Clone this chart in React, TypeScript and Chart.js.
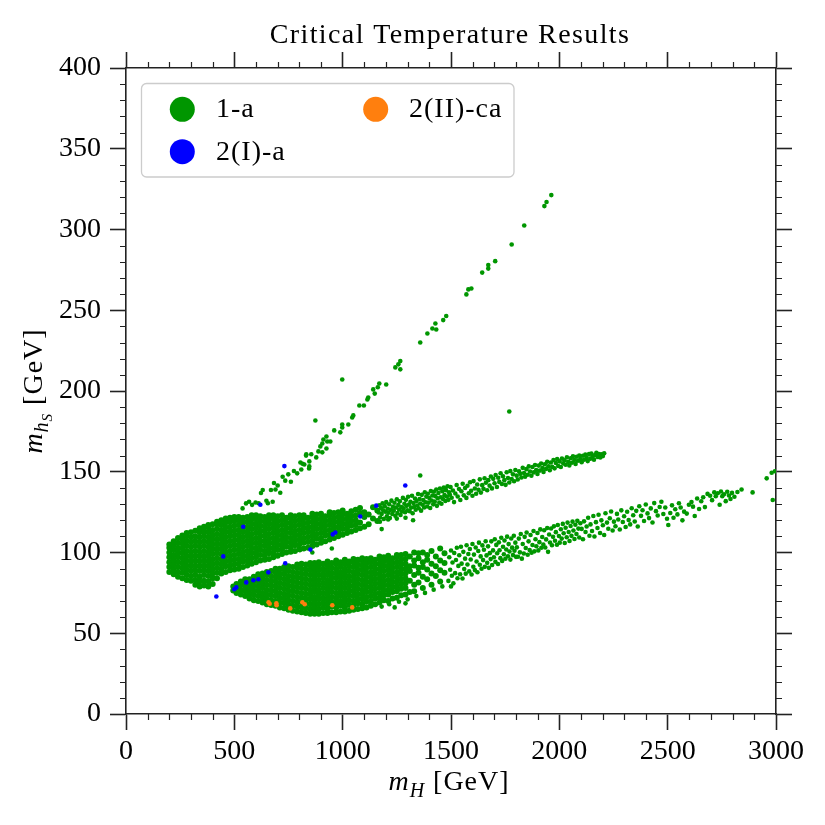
import React, { useEffect, useRef } from 'react';
import Chart from 'chart.js/auto';

// dense parts, in columns: first value is m_H [GeV], the rest are the m_hS values [GeV] at that m_H
const upperCore: number[][] = [
    [200, 88, 91, 94, 97, 100, 103, 105],
    [220, 86.5, 89.5, 92.5, 95.5, 98.5, 101.5, 104.5, 107],
    [240, 85, 88, 91, 94, 97, 100, 103, 106, 109],
    [260, 84, 87.5, 90.5, 93.5, 96.5, 99.5, 102.5, 105.5, 108.5, 110.5],
    [280, 83, 86, 89, 92, 95, 98, 101, 104, 107, 110, 112],
    [300, 82.5, 85.5, 88.5, 91.5, 94.5, 97.5, 100.5, 103.5, 106.5, 109.5, 112.5],
    [320, 80, 83, 86, 89, 92, 95, 98, 101, 104, 107, 110, 113.5],
    [340, 79, 82, 85, 88.5, 91.5, 94.5, 97.5, 100.5, 103.5, 106.5, 109.5, 112.5, 115],
    [360, 79.5, 82.5, 86, 89, 92, 95, 98, 101, 104, 107, 110, 113, 116],
    [380, 79, 82, 85.5, 88.5, 91.5, 94.5, 97.5, 100.5, 103.5, 106.5, 109.5, 112.5, 115.5, 117],
    [400, 80.5, 84, 87, 90, 93, 96, 99, 102, 105, 108, 111, 114, 117.5],
    [420, 84, 87.5, 90.5, 93.5, 96.5, 99.5, 102.5, 105.5, 108.5, 111.5, 114.5, 117.5, 119],
    [440, 87, 90, 93, 96, 99, 102, 105, 108, 111, 114, 117, 120],
    [460, 88, 91.5, 94.5, 97.5, 100.5, 103.5, 106.5, 109.5, 112.5, 115.5, 118.5, 121],
    [480, 89, 92, 95, 98, 101, 104, 107, 110, 113, 116, 119, 121.5],
    [500, 89.5, 92.5, 95.5, 98.5, 101.5, 104.5, 107.5, 110.5, 113.5, 116.5, 119.5, 122],
    [520, 90, 93, 96, 99, 102, 105, 108, 111, 114, 117, 120, 122],
    [540, 91, 94.5, 97.5, 100.5, 103.5, 106.5, 109.5, 112.5, 115.5, 118.5, 121.5],
    [560, 92, 95, 98, 101, 104, 107, 110, 113, 116, 119, 122],
    [580, 93, 96.5, 99.5, 102.5, 105.5, 108.5, 111.5, 114.5, 117.5, 120.5, 123],
    [600, 94, 97, 100, 103, 106, 109, 112, 115, 118, 121, 123],
    [620, 95, 98.5, 101.5, 104.5, 107.5, 110.5, 113.5, 116.5, 119.5, 122.5],
    [640, 95.5, 98, 101, 104, 107, 110, 113, 116, 119, 122],
    [660, 96, 99.5, 102.5, 105.5, 108.5, 111.5, 114.5, 117.5, 120.5, 123],
    [680, 97, 100, 103, 106, 109, 112, 115, 118, 121, 123],
    [700, 98, 101.5, 104.5, 107.5, 110.5, 113.5, 116.5, 119.5, 122.5],
    [720, 99, 102, 105, 108, 111, 114, 117, 120, 123],
    [740, 100, 103.5, 106.5, 109.5, 112.5, 115.5, 118.5, 121.5],
    [760, 100.5, 103, 106, 109, 112, 115, 118, 121, 123],
    [780, 101, 104.5, 107.5, 110.5, 113.5, 116.5, 119.5, 122.5],
    [800, 102, 105, 108, 111, 114, 117, 120, 123],
    [820, 102.5, 106, 109, 112, 115, 118, 121, 123],
    [840, 103, 106.5, 109.5, 112.5, 115.5, 118.5, 121.5],
    [860, 104, 107, 110, 113, 116, 119, 122, 124],
    [880, 105, 108.5, 111.5, 114.5, 117.5, 120.5, 123.5],
    [900, 106, 109, 112, 115, 118, 121, 124],
    [920, 107, 110.5, 113.5, 116.5, 119.5, 122.5],
    [940, 108, 111, 114, 117, 120, 123, 125],
    [960, 109, 112.5, 115.5, 118.5, 121.5, 124.5],
    [980, 110, 113, 116, 119, 122, 125],
    [1000, 111, 114.5, 117.5, 120.5, 123.5, 126],
    [1020, 112, 115, 118, 121, 124],
    [1040, 113, 116.5, 119.5, 122.5, 125.5],
    [1060, 114, 117, 120, 123, 126.5],
    [1080, 115, 118.5, 124.5, 127.5],
    [1100, 116, 122, 125],
    [1120, 117.5, 123.5],
    [1140, 121, 128],
    [1160, 119.5, 126],
];

const lowerCore: number[][] = [
    [495, 76.5, 79],
    [510, 75, 78, 80.5],
    [530, 74, 77, 80, 82],
    [550, 73, 76, 79, 82, 83.5],
    [570, 71.5, 74.5, 77.5, 80.5, 83.5],
    [590, 70.5, 73.5, 76.5, 79.5, 82.5, 85],
    [610, 70, 73, 76, 79, 82, 85, 86.5],
    [630, 69, 72, 75, 78, 81, 84, 87],
    [650, 68, 71, 74, 77, 80, 83, 86, 88],
    [670, 67.5, 70.5, 73.5, 76.5, 79.5, 82.5, 85.5, 88.5],
    [690, 67, 70, 73, 76, 79, 82, 85, 88, 90],
    [710, 66, 69, 72, 75, 78, 81, 84, 87, 90],
    [730, 65.5, 68.5, 71.5, 74.5, 77.5, 80.5, 83.5, 86.5, 89.5, 91],
    [750, 64.5, 67.5, 70.5, 73.5, 76.5, 79.5, 82.5, 85.5, 88.5, 91.5],
    [770, 64, 67, 70, 73, 76, 79, 82, 85, 88, 91],
    [790, 63.5, 66.5, 69.5, 72.5, 75.5, 78.5, 81.5, 84.5, 87.5, 90.5, 92.5],
    [810, 63, 66, 69, 72, 75, 78, 81, 84, 87, 90, 93],
    [830, 62.5, 65.5, 68.5, 71.5, 74.5, 77.5, 80.5, 83.5, 86.5, 89.5, 92.5],
    [850, 62, 65, 68, 71, 74, 77, 80, 83, 86, 89, 92, 93.5],
    [870, 62, 63.5, 66.5, 69.5, 72.5, 75.5, 78.5, 81.5, 84.5, 87.5, 90.5, 93.5],
    [890, 62, 65, 68, 71, 74, 77, 80, 83, 86, 89, 92, 94],
    [910, 62.5, 66, 69, 72, 75, 78, 81, 84, 87, 90, 93],
    [930, 62.5, 65, 68, 71, 74, 77, 80, 83, 86, 89, 92, 94.5],
    [950, 63, 66.5, 69.5, 72.5, 75.5, 78.5, 81.5, 84.5, 87.5, 90.5, 93.5],
    [970, 63, 66, 69, 72, 75, 78, 81, 84, 87, 90, 93, 95],
    [990, 63.5, 67, 70, 73, 76, 79, 82, 85, 88, 91, 94],
    [1010, 63.5, 66, 69, 72, 75, 78, 81, 84, 87, 90, 93, 95.5],
    [1030, 64, 67.5, 70.5, 73.5, 76.5, 79.5, 82.5, 85.5, 88.5, 91.5, 94.5],
    [1050, 64.5, 67, 70, 73, 76, 79, 82, 85, 88, 91, 94, 96],
    [1070, 65, 68.5, 71.5, 74.5, 77.5, 80.5, 83.5, 86.5, 89.5, 92.5, 95.5],
    [1090, 65.5, 68, 71, 74, 77, 80, 83, 86, 89, 92, 95, 96.5],
    [1110, 66, 69.5, 72.5, 75.5, 78.5, 81.5, 84.5, 87.5, 90.5, 93.5, 96],
    [1130, 67, 70, 73, 76, 79, 82, 85, 88, 91, 94, 96.5],
    [1150, 68, 71.5, 74.5, 77.5, 80.5, 83.5, 86.5, 89.5, 92.5, 95.5],
    [1170, 69, 72, 75, 78, 81, 84, 87, 90, 93, 96, 97.5],
    [1190, 70.5, 73.5, 76.5, 79.5, 82.5, 85.5, 88.5, 91.5, 94.5, 97],
    [1210, 70, 74, 77, 80, 83, 86, 89, 92, 95, 98],
    [1230, 71.5, 75.5, 78.5, 81.5, 84.5, 87.5, 90.5, 93.5, 96.5],
    [1250, 72, 76, 79, 82, 85, 88, 91, 94, 97, 98.5],
    [1270, 73.5, 77.5, 80.5, 83.5, 86.5, 89.5, 92.5, 95.5, 98.5],
    [1290, 74, 78, 81, 84, 87, 90, 93, 96, 99],
    [1310, 75.5, 82.5, 88.5, 91.5, 97.5],
    [1330, 76, 80, 86, 92, 95, 100],
    [1350, 81.5, 87.5, 90.5, 96.5, 99.5],
    [1370, 78, 85, 91, 94, 100],
    [1390, 83.5, 89.5, 95.5, 98.5],
    [1410, 80, 87, 93, 101],
    [1430, 85.5, 91.5, 97.5],
    [1450, 82, 89, 95, 102.5],
    [1470, 87.5, 93.5, 99.5],
];

// sparser parts, single points [m_H, m_hS]
const upperBand: number[][] = [
    [1166, 124.8], [1169, 129.3], [1173, 121.7], [1177, 127.6], [1180, 123.9], [1184, 130.4], [1187, 126.2],
    [1190, 120.8], [1194, 128.7], [1197, 125.3], [1201, 131.2], [1204, 122.4], [1208, 127.1], [1211, 124.6],
    [1215, 129.9], [1218, 121.3], [1222, 126.4], [1225, 132.1], [1229, 123.8], [1232, 128.3], [1236, 125.9],
    [1239, 130.8], [1243, 122.7], [1246, 127.9], [1250, 133], [1253, 124.4], [1257, 129.5], [1260, 126.6],
    [1264, 131.7], [1267, 123.2], [1271, 128.1], [1274, 125.4], [1278, 133.8], [1281, 127.3], [1285, 130.2],
    [1288, 124.9], [1292, 132.6], [1295, 128.9], [1299, 126.1], [1302, 134.5], [1306, 129.7], [1309, 125.6],
    [1313, 131.4], [1316, 127.8], [1320, 135.1], [1323, 124.3], [1327, 130.6], [1330, 128.2], [1334, 133.4],
    [1337, 126.5], [1341, 131.9], [1344, 129.1], [1348, 136.2], [1351, 127.4], [1355, 133.1], [1358, 130.3],
    [1362, 125.9], [1365, 135.7], [1369, 129.6], [1372, 132.5], [1376, 127.9], [1379, 137.3], [1383, 131.1],
    [1386, 134.6], [1390, 128.5], [1393, 136.4], [1397, 130.9], [1400, 133.7], [1404, 127.6], [1407, 138.1],
    [1411, 132.2], [1414, 135.3], [1418, 129.8], [1421, 137.6], [1425, 131.5], [1428, 134.9], [1432, 139],
    [1435, 128.9], [1439, 133.6], [1442, 136.8], [1446, 131], [1449, 139.6], [1453, 134.2], [1456, 130.2],
    [1460, 137.9], [1463, 133.1], [1467, 140.2], [1470, 135.5], [1474, 131.9], [1477, 138.6], [1481, 134.7],
    [1484, 141], [1488, 132.6], [1491, 137.2], [1495, 135.8], [1498, 140.5],
    [1503, 133.9], [1509, 138.4], [1514, 131.2], [1520, 136.5], [1526, 141.8], [1531, 134.7], [1537, 139.3],
    [1543, 132.5], [1548, 137.9], [1554, 142.6], [1559, 135.4], [1565, 139.9], [1571, 133.8], [1576, 141.3],
    [1582, 136.7], [1588, 143.5], [1593, 138.2], [1599, 135.1], [1604, 144.2], [1610, 139.6], [1616, 136.4],
    [1621, 142.1], [1627, 138.8], [1633, 145.3], [1638, 137.1], [1644, 141.7], [1650, 139.4], [1655, 146],
    [1661, 143.2], [1667, 138.5], [1672, 144.8], [1678, 141.4], [1684, 147.1], [1689, 139.7], [1695, 145.6],
    [1701, 142.9], [1706, 148], [1712, 140.6], [1718, 146.3], [1723, 143.7], [1729, 149.1], [1735, 142.4],
    [1740, 147.2], [1746, 144.8], [1752, 141.9], [1757, 149.7], [1763, 146.1], [1769, 143.3], [1774, 150.4],
    [1780, 145.5], [1786, 148.4], [1791, 144.1], [1797, 151.1], [1803, 147.6], [1808, 145.2], [1814, 150.3],
    [1820, 148.7], [1825, 146.4], [1831, 152.4], [1837, 149.2], [1842, 146.9], [1848, 151.6], [1854, 148.1],
    [1859, 153.3], [1865, 150.2], [1871, 147.5], [1876, 152.9], [1882, 149.6], [1888, 154.2], [1893, 151],
    [1899, 148.6], [1905, 153.8], [1910, 150.7], [1916, 155.1], [1922, 152.3], [1927, 149.9], [1933, 154.6],
    [1939, 151.8], [1944, 156.2], [1950, 153.4], [1956, 150.9], [1961, 155.7], [1967, 153], [1973, 157.3],
    [1978, 152.1], [1984, 155.4], [1990, 157.9], [1995, 153.6], [2001, 156.4], [2007, 152.9], [2012, 158.2],
    [2018, 155.2], [2024, 157.1], [2029, 154.3], [2035, 159], [2041, 156.1], [2046, 153.9], [2052, 158.4],
    [2058, 155.6], [2063, 159.6], [2069, 157.2], [2075, 154.8], [2080, 159.3], [2086, 156.8], [2092, 160.1],
    [2097, 157.9], [2103, 155.9], [2109, 159.9], [2114, 157.4], [2120, 160.6], [2126, 158.6], [2131, 156.6],
    [2137, 160.9], [2143, 158.1], [2148, 161.3], [2154, 159.4], [2160, 157.5], [2165, 160.4], [2171, 161.7],
    [2177, 159.1], [2183, 161], [2189, 158.9], [2195, 160.8], [2201, 159.7], [2207, 161.5],
];

const lowerBand: number[][] = [
    [1488, 82.4], [1492, 97.1], [1496, 89.3], [1500, 101.2], [1504, 85.6], [1507, 93.8], [1511, 80.9],
    [1515, 99.7], [1519, 87.2], [1523, 95.4], [1527, 102.9], [1530, 84.1], [1534, 91.7], [1538, 98.3],
    [1542, 86.5], [1546, 103.6], [1549, 93.1], [1553, 83.9], [1557, 100.4], [1561, 89.8], [1565, 96.2],
    [1568, 86.9], [1572, 104.5], [1576, 92.6], [1580, 99.1], [1584, 88.3], [1587, 102.2], [1591, 95.7],
    [1595, 86.4], [1599, 105.3], [1603, 91.2], [1606, 98.7], [1610, 89.1], [1614, 103.1], [1618, 94.4],
    [1622, 87.8], [1626, 100.9], [1629, 106.1], [1633, 92.4], [1637, 97.6], [1641, 89.9], [1645, 104.4],
    [1648, 95.3], [1652, 101.7], [1656, 91.1], [1660, 107], [1664, 98.2], [1667, 93.6], [1671, 103.8],
    [1675, 90.5], [1679, 99.6], [1683, 95.9], [1686, 106.9], [1690, 92.3], [1694, 101.3], [1698, 97.1],
    [1702, 108.2], [1705, 94.2], [1709, 104.7], [1713, 99.5], [1717, 92.9], [1721, 106.3], [1724, 101.4],
    [1728, 96.5], [1732, 109.1], [1736, 94.8], [1740, 103.6], [1744, 98.9], [1747, 107.4], [1751, 96.1],
    [1755, 101.9], [1759, 109.8], [1763, 97.7], [1766, 105.2], [1770, 100.6], [1774, 95.6], [1778, 108.7],
    [1782, 103], [1786, 98.4], [1790, 110.4], [1793, 101.1], [1797, 106.1], [1800, 97.3],
    [1804, 103.2], [1809, 97.4], [1813, 108.6], [1818, 100.1], [1822, 111.5], [1827, 96.2], [1831, 105.3],
    [1836, 99.4], [1840, 109.7], [1845, 102.8], [1849, 112.4], [1854, 98.6], [1858, 106.9], [1863, 101.5],
    [1867, 110.8], [1872, 99.9], [1876, 104.6], [1881, 113.3], [1885, 100.7], [1890, 108.2], [1894, 103.9],
    [1899, 112.1], [1903, 101.3], [1908, 106.4], [1912, 114.3], [1917, 102.9], [1921, 109.6], [1926, 105],
    [1930, 113.8], [1935, 103.1], [1939, 108.1], [1944, 115.2], [1948, 100.4], [1953, 111.1], [1957, 106.2],
    [1962, 114.9], [1966, 104.5], [1971, 109.7], [1975, 116.2], [1980, 107.3], [1984, 112.6], [1989, 104.8],
    [1993, 117], [1998, 110.2], [2002, 106.1], [2007, 114.4], [2011, 108.6], [2016, 117.7], [2020, 111.9],
    [2025, 105.9], [2029, 115.3], [2034, 109.4], [2038, 118.5], [2043, 112.7], [2047, 107.1], [2052, 116.4],
    [2056, 110.3], [2061, 119.1], [2065, 113.6], [2070, 108.4], [2074, 117.2], [2079, 111.5], [2083, 119.6],
    [2088, 114.8], [2092, 109.3], [2097, 118.1],
    [2103, 114.6], [2109, 108.2], [2114, 119.3], [2121, 112.7], [2126, 116.1], [2133, 121.5], [2139, 110.4],
    [2144, 117.4], [2151, 113.3], [2157, 122.6], [2162, 109.9], [2169, 118.8], [2176, 115.2], [2181, 123.4],
    [2188, 112.1], [2194, 119.9], [2201, 116.9], [2207, 110.8], [2213, 124.3], [2220, 118.5], [2226, 114.7],
    [2233, 121.2], [2239, 125.4], [2246, 113.6], [2252, 119.1], [2259, 116.3], [2266, 123.9], [2272, 120.4],
    [2279, 114.2], [2286, 126.1], [2293, 118.9], [2299, 122.4], [2306, 115.8], [2313, 125.2], [2320, 120.1],
    [2327, 117.4], [2334, 127.4], [2341, 123.1], [2348, 119.2], [2355, 125.8], [2362, 116.1], [2369, 128.6],
    [2377, 122.7], [2384, 126.2], [2391, 119.5], [2399, 129.7], [2407, 124.2], [2414, 121.3], [2422, 127.3],
    [2430, 118.6], [2438, 130.6], [2446, 125.6], [2454, 122.9], [2463, 128.2], [2471, 131.4], [2480, 123.8],
    [2489, 127.9], [2497, 120.9],
    [2503, 117], [2512, 124.5], [2520, 129.2], [2527, 121.5], [2535, 126.8], [2545, 123.6],
    [2552, 130.5], [2560, 127.9], [2568, 119.9], [2576, 125.3], [2588, 124.1], [2598, 129.6], [2610, 131.2],
    [2617, 128.4], [2625, 122.6], [2636, 133.4], [2645, 126.9], [2655, 131.7], [2664, 134.2], [2672, 128.1],
    [2684, 136.3], [2696, 135.1], [2705, 132.4], [2715, 137.2], [2722, 134.8], [2731, 136.7], [2740, 129.6],
    [2746, 137.8], [2752, 134.9], [2760, 136.1], [2768, 131.8], [2775, 137.6], [2783, 135.3], [2790, 133.1],
    [2797, 136.9], [2808, 134.5], [2822, 137.5], [2841, 139], [2892, 137.2], [2957, 145.9], [2980, 149.4],
    [2985, 132.5], [2995, 150.3],
];

const steepBranch: number[][] = [
    [538, 127.3], [554, 130.4], [568, 131.4], [582, 129.5], [598, 131], [612, 130.5], [623, 136.8],
    [631, 138.7], [648, 132], [655, 130.5], [669, 138.7], [677, 131.4], [683, 143], [690, 139],
    [700, 141.5], [712, 137], [723, 146.9], [735, 144.5], [749, 148.4], [761, 143.8], [775, 150.5],
    [790, 149], [805, 155.7], [809, 151.4], [815, 155], [823, 154.5], [831, 160], [832, 160.8],
    [845, 152], [846, 156.4], [846, 153.3], [855, 160.8], [878, 158.9], [888, 162.6], [897, 165.7],
    [906, 162], [906, 167.5], [911, 170], [925, 164.4], [925, 171.8], [929, 168.7], [943, 168.7],
    [961, 175.6], [989, 174.4], [998, 177.4], [998, 179.3], [1026, 179.3], [1044, 183.6],
    [1049, 184.9], [1077, 191], [1098, 191], [1114, 194.7], [1118, 196], [1141, 201], [1148, 198.4],
    [1162, 202.3], [1169, 204.6], [1201, 204], [1243, 214.6], [1257, 216.5], [1266, 218.5],
    [1266, 213.4], [1358, 230], [1391, 235.6], [1414, 238.7], [1428, 241.8], [1432, 238.1],
    [1464, 243.9], [1478, 246.4], [1571, 259.8], [1580, 262.9], [1594, 263.5], [1644, 273.3],
    [1672, 275.8], [1672, 278], [1704, 280.4], [1780, 290.7], [1838, 302.5], [1931, 314.5],
    [1941, 317], [1963, 321.3],
];

const strayPoints: number[][] = [
    [874, 181.7], [998, 207.1], [1769, 187.3], [1358, 147.7],
    [1172, 119], [1210, 120.5], [1250, 121], [1290, 121.5], [1325, 120], [1180, 114.5],
    [1180, 66.5], [1215, 68], [1240, 66], [1260, 69.5], [1290, 68.5], [1300, 71], [1340, 73],
    [1380, 75], [1420, 77], [1460, 79], [1500, 79], [860, 100], [950, 102.5], [803, 101.5],
];

const blueSet: number[][] = [
    [731, 153.5], [1289, 141.5], [620, 129.6], [1155, 129], [541, 115.9], [1081, 122.3], [954, 111.2],
    [966, 112.4], [449, 97.6], [851, 101.8], [735, 93.3], [657, 87.7], [611, 83.4], [588, 82.8],
    [555, 81.5], [509, 78.4], [500, 77.2], [417, 72.8],
];

const orangeSet: number[][] = [
    [658, 69.2], [663, 68.3], [694, 68.5], [695, 67.3], [758, 65.4], [814, 69.2], [825, 68],
    [952, 67.3], [1044, 66],
];

const xTicks = [0, 500, 1000, 1500, 2000, 2500, 3000];
const yTicks = [0, 50, 100, 150, 200, 250, 300, 350, 400];

const TITLE = 'Critical Temperature Results';
const GREEN = '#009600';
const BLUE = '#0000ff';
const ORANGE = '#ff7f0e';
const AXIS = '#222222';
const FONT = '"Liberation Serif", "Times New Roman", serif';

const toPoints = (cols: number[][]) => cols.flatMap(([x, ...ys]) => ys.map((y) => ({ x, y })));
const toPairs = (pts: number[][]) => pts.map(([x, y]) => ({ x, y }));

type Piece = { text: string; font: string; dy: number };

// draws a run of text pieces (labels with subscripts)
const drawPieces = (ctx: CanvasRenderingContext2D, pieces: Piece[], cx: number, y: number) => {
    const widths = pieces.map((p) => {
        ctx.font = p.font;
        return ctx.measureText(p.text).width;
    });
    let x = cx - widths.reduce((a, b) => a + b, 0) / 2;
    pieces.forEach((p, i) => {
        ctx.font = p.font;
        ctx.fillText(p.text, x, y + p.dy);
        x += widths[i];
    });
};

const minorTicks = {
    id: 'minorTicks',
    afterDraw(chart: any) {
        const { ctx, chartArea } = chart;
        const { left, right, top, bottom } = chartArea;
        ctx.save();
        ctx.strokeStyle = AXIS;
        ctx.lineWidth = 1.2;
        ctx.beginPath();
        for (let v = 100; v < 3000; v += 100) {
            if (v % 500 === 0) continue;
            const px = Math.round(chart.scales.x.getPixelForValue(v)) + 0.5;
            ctx.moveTo(px, bottom);
            ctx.lineTo(px, bottom + 6);
            ctx.moveTo(px, top);
            ctx.lineTo(px, top - 6);
        }
        for (let v = 10; v < 400; v += 10) {
            if (v % 50 === 0) continue;
            const py = Math.round(chart.scales.y.getPixelForValue(v)) + 0.5;
            ctx.moveTo(left, py);
            ctx.lineTo(left - 6, py);
            ctx.moveTo(right, py);
            ctx.lineTo(right + 6, py);
        }
        ctx.stroke();
        ctx.restore();
    },
};

const overlay = {
    id: 'overlay',
    afterDraw(chart: any) {
        const { ctx, chartArea } = chart;
        const cx = (chartArea.left + chartArea.right) / 2;
        const cy = (chartArea.top + chartArea.bottom) / 2;
        ctx.save();
        ctx.fillStyle = '#000';
        ctx.textBaseline = 'alphabetic';
        ctx.textAlign = 'left';

        // title
        ctx.letterSpacing = '1.4px';
        drawPieces(ctx, [{ text: TITLE, font: `28px ${FONT}`, dy: 0 }], cx - 1, 42.5);

        // x axis title
        ctx.letterSpacing = '1px';
        drawPieces(
            ctx,
            [
                { text: 'm', font: `italic 28px ${FONT}`, dy: 0 },
                { text: 'H', font: `italic 20px ${FONT}`, dy: 7 },
                { text: ' [GeV]', font: `28px ${FONT}`, dy: 0 },
            ],
            cx - 2,
            790,
        );

        // y axis title
        ctx.save();
        ctx.translate(42, cy);
        ctx.rotate(-Math.PI / 2);
        drawPieces(
            ctx,
            [
                { text: 'm', font: `italic 28px ${FONT}`, dy: 0 },
                { text: 'h', font: `italic 20px ${FONT}`, dy: 6 },
                { text: 'S', font: `italic 15px ${FONT}`, dy: 10 },
                { text: ' [GeV]', font: `28px ${FONT}`, dy: 0 },
            ],
            0,
            0,
        );
        ctx.restore();

        // legend
        ctx.beginPath();
        ctx.roundRect(141.5, 83.5, 372.5, 93.5, 5);
        ctx.fillStyle = 'rgba(255,255,255,0.8)';
        ctx.fill();
        ctx.strokeStyle = '#cccccc';
        ctx.lineWidth = 1.3;
        ctx.stroke();

        const ds = chart.data.datasets;
        const slots = [
            { i: 0, mx: 182.3, my: 109.3, tx: 216, ty: 117 },
            { i: 1, mx: 182.3, my: 151.7, tx: 216, ty: 159.5 },
            { i: 2, mx: 375.7, my: 109.3, tx: 409, ty: 117 },
        ];
        ctx.font = `28px ${FONT}`;
        ctx.letterSpacing = '1px';
        slots.forEach((s) => {
            ctx.beginPath();
            ctx.arc(s.mx, s.my, 12.5, 0, Math.PI * 2);
            ctx.fillStyle = ds[s.i].backgroundColor;
            ctx.fill();
            ctx.fillStyle = '#000';
            ctx.fillText(ds[s.i].label, s.tx, s.ty);
        });
        ctx.restore();
    },
};

const axisBase = (pos: string, min: number, max: number, ticks: number[], size: number, showLabels: boolean) => ({
    type: 'linear' as const,
    position: pos,
    min,
    max,
    afterBuildTicks: (s: any) => {
        s.ticks = ticks.map((v) => ({ value: v }));
    },
    afterFit: (s: any) => {
        if (pos === 'top' || pos === 'bottom') s.height = size;
        else s.width = size;
    },
    ticks: {
        display: showLabels,
        color: '#000',
        padding: pos === 'bottom' ? 5 : 9,
        maxRotation: 0,
        autoSkip: false,
        font: { family: FONT, size: 28, lineHeight: 1.2 },
        callback: (v: any) => String(v),
    },
    grid: { drawOnChartArea: false, drawTicks: true, tickLength: 16, tickWidth: 1.6, tickColor: AXIS },
    border: { display: true, color: AXIS, width: 1.6 },
});

const App: React.FC = () => {
    const canvasRef = useRef<HTMLCanvasElement | null>(null);
    const chartRef = useRef<Chart | null>(null);

    useEffect(() => {
        if (!canvasRef.current) return;
        if (chartRef.current) chartRef.current.destroy();

        const greenScatter = [
            ...toPairs(upperBand),
            ...toPairs(lowerBand),
            ...toPairs(steepBranch),
            ...toPairs(strayPoints),
        ];
        const greenDense = [...toPoints(upperCore), ...toPoints(lowerCore)];

        chartRef.current = new Chart(canvasRef.current, {
            type: 'scatter',
            data: {
                datasets: [
                    { label: '1-a', data: greenScatter, backgroundColor: GREEN, order: 3 },
                    { label: '2(I)-a', data: toPairs(blueSet), backgroundColor: BLUE, order: 1 },
                    { label: '2(II)-ca', data: toPairs(orangeSet), backgroundColor: ORANGE, order: 2 },
                    { label: '1-a', data: greenDense, backgroundColor: GREEN, order: 4, pointRadius: 3 },
                ],
            },
            options: {
                responsive: false,
                animation: false,
                events: [],
                layout: { padding: 0 },
                elements: { point: { radius: 2.3, borderWidth: 0, hoverRadius: 0 } },
                plugins: { legend: { display: false }, tooltip: { enabled: false }, title: { display: false } },
                scales: {
                    x: axisBase('bottom', 0, 3000, xTicks, 111, true),
                    xTop: axisBase('top', 0, 3000, xTicks, 68, false),
                    y: axisBase('left', 0, 400, yTicks, 126, true),
                    yRight: axisBase('right', 0, 400, yTicks, 49, false),
                },
            } as any,
            plugins: [minorTicks, overlay],
        });

        return () => {
            if (chartRef.current) {
                chartRef.current.destroy();
                chartRef.current = null;
            }
        };
    }, []);

    return (
        <div style={{ position: 'fixed', left: 0, top: 0, width: 825, height: 825, background: '#fff' }}>
            <canvas ref={canvasRef} width={825} height={825} />
        </div>
    );
};

export default App;
